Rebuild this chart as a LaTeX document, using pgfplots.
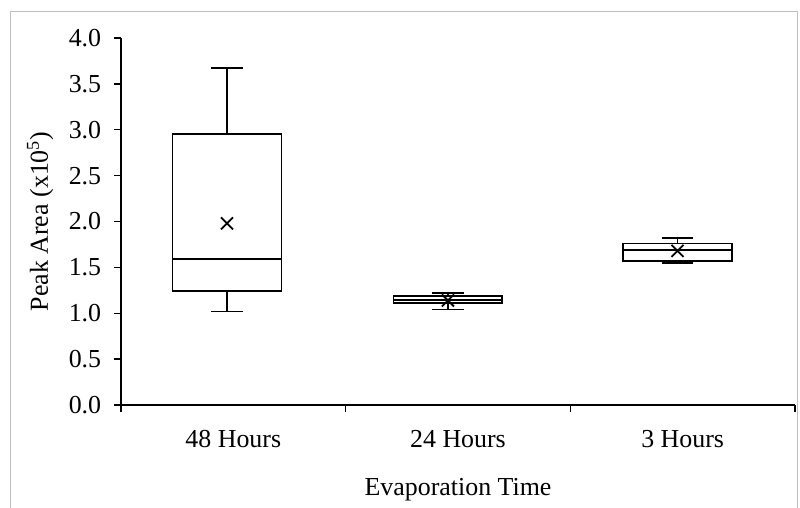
\documentclass[border=0pt]{standalone}
\usepackage{fontspec}
\setmainfont{Liberation Serif}
\usepackage{pgfplots}
\pgfplotsset{compat=1.18}
\usepgfplotslibrary{statistics}
\begin{document}
\begin{tikzpicture}[x=1bp,y=1bp]
\fontsize{26}{30}\selectfont
\useasboundingbox (0,0) rectangle (800,508);
\draw[black!25, line width=1bp] (10.5,-2) -- (10.5,496.5) -- (797.5,496.5) -- (797.5,-2);
\begin{axis}[
  at={(121bp,103bp)}, anchor=south west,
  scale only axis, width=674bp, height=367bp,
  xmin=0.5, xmax=3.5, ymin=0, ymax=4,
  axis x line*=bottom, axis y line*=left,
  axis line style={line width=1.3bp, -},
  xtick={0.5,1.5,2.5,3.5},
  xticklabels={48 Hours,24 Hours,3 Hours},
  x tick label as interval,
  ytick={0,0.5,1,1.5,2,2.5,3,3.5,4},
  yticklabels={0.0,0.5,1.0,1.5,2.0,2.5,3.0,3.5,4.0},
  tick align=outside,
  major tick length=7bp,
  tick style={line width=1.3bp, black},
  y tick label style={xshift=-4bp},
  x tick label style={yshift=-9bp, text height=0.7em, text depth=0.2em},
  ticklabel style={font=\fontsize{26}{30}\selectfont},
  label style={font=\fontsize{26}{30}\selectfont},
  xlabel={Evaporation Time},
  ylabel={Peak Area (x10\textsuperscript{5})},
  every axis x label/.style={at={(axis description cs:0.5,-0.231)}, anchor=center},
  every axis y label/.style={at={(axis description cs:-0.12,0.5)}, rotate=90, anchor=center},
  boxplot/draw direction=y,
  boxplot/every box/.style={draw=black, line width=1.8bp},
  boxplot/every whisker/.style={draw=black, line width=1.8bp},
  boxplot/every median/.style={draw=black, line width=1.8bp},
  clip=false,
]
\addplot[black, line width=1.8bp, boxplot prepared={draw position=0.972, lower whisker=1.02, lower quartile=1.24, median=1.59, upper quartile=2.95, upper whisker=3.67, box extend=0.485, whisker extend=0.14}] coordinates {};
\addplot[black, line width=1.8bp, boxplot prepared={draw position=1.955, lower whisker=1.04, lower quartile=1.11, median=1.14, upper quartile=1.19, upper whisker=1.22, box extend=0.485, whisker extend=0.14}] coordinates {};
\addplot[black, line width=1.8bp, boxplot prepared={draw position=2.977, lower whisker=1.55, lower quartile=1.57, median=1.69, upper quartile=1.76, upper whisker=1.82, box extend=0.485, whisker extend=0.14}] coordinates {};
\addplot[only marks, mark=x, mark size=8.5bp, line width=1.8bp, black] coordinates {(0.972,1.98) (1.955,1.14) (2.977,1.68)};
\end{axis}
\end{tikzpicture}
\end{document}
